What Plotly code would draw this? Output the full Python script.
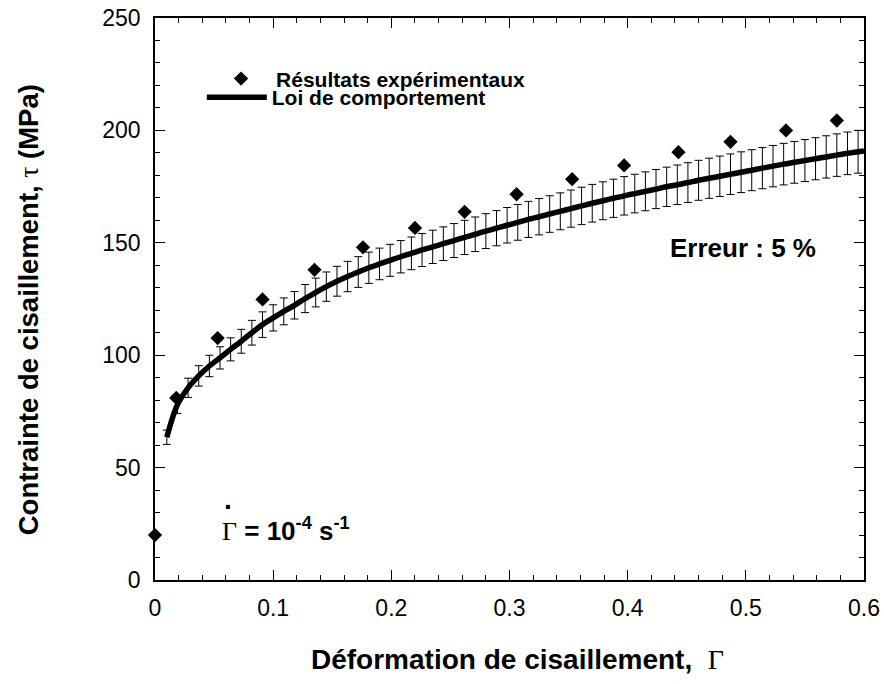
import plotly.graph_objects as go

# Experimental points (Gamma, tau in MPa)
exp_x = [0.0, 0.018, 0.053, 0.091, 0.135, 0.176, 0.220, 0.262, 0.306, 0.353, 0.397, 0.443, 0.487, 0.534, 0.577]
exp_y = [20.0, 81.0, 107.6, 124.8, 138.0, 148.0, 156.6, 163.8, 171.6, 178.3, 184.4, 190.3, 194.9, 200.0, 204.4]

# Constitutive law curve, read at the error-bar positions
law_x = [0.010, 0.019, 0.028, 0.037, 0.046, 0.055, 0.064, 0.073, 0.082, 0.091,
         0.100, 0.109, 0.118, 0.127, 0.136, 0.145, 0.154, 0.163, 0.172, 0.181,
         0.190, 0.199, 0.208, 0.217, 0.226, 0.235, 0.244, 0.253, 0.262, 0.271,
         0.280, 0.289, 0.298, 0.307, 0.316, 0.325, 0.334, 0.343, 0.352, 0.361,
         0.370, 0.379, 0.388, 0.397, 0.406, 0.415, 0.424, 0.433, 0.442, 0.451,
         0.460, 0.469, 0.478, 0.487, 0.496, 0.505, 0.514, 0.523, 0.532, 0.541,
         0.550, 0.559, 0.568, 0.577, 0.586, 0.595]
law_y = [63.5, 78.0, 85.5, 90.8, 95.2, 98.8, 102.6, 106.2, 110.0, 113.6,
         116.6, 119.5, 122.2, 125.2, 127.9, 130.5, 132.9, 135.0, 137.0, 138.9,
         140.6, 142.2, 143.8, 145.3, 146.8, 148.2, 149.6, 151.0, 152.4, 153.8,
         155.2, 156.5, 157.8, 159.1, 160.4, 161.6, 162.8, 164.0, 165.2, 166.4,
         167.6, 168.7, 169.8, 170.9, 171.9, 172.9, 173.9, 174.9, 175.8, 176.8,
         177.8, 178.7, 179.6, 180.5, 181.4, 182.3, 183.2, 184.1, 185.0, 185.8,
         186.6, 187.4, 188.2, 189.0, 189.8, 190.5]
law_end_x = [0.600]
law_end_y = [190.9]

error_percent = 5

x_ticks = [0, 0.1, 0.2, 0.3, 0.4, 0.5, 0.6]
x_ticklabels = ["0", "0.1", "0.2", "0.3", "0.4", "0.5", "0.6"]
y_ticks = [0, 50, 100, 150, 200, 250]

SANS = "Liberation Sans, Arial, Helvetica, sans-serif"
SERIF_SPAN = "<span style=\"font-family:Liberation Serif;font-weight:normal\">{}</span>"

fig = go.Figure()

# error bars (5 %)
fig.add_trace(go.Scatter(
    x=law_x, y=law_y, mode="markers",
    marker=dict(size=1, color="rgba(0,0,0,0)"),
    error_y=dict(type="percent", value=error_percent, color="black", thickness=1, width=4),
    showlegend=False, hoverinfo="skip",
))

# constitutive law
fig.add_trace(go.Scatter(
    x=law_x + law_end_x, y=law_y + law_end_y, mode="lines",
    line=dict(color="black", width=5.5, shape="spline"),
    name="Loi de comportement", legend="legend2",
))

# experimental results
fig.add_trace(go.Scatter(
    x=exp_x, y=exp_y, mode="markers",
    marker=dict(symbol="diamond", size=11, color="black"),
    name="Résultats expérimentaux", legend="legend", cliponaxis=False,
))

axis_common = dict(
    showline=True, linecolor="black", linewidth=1.5, mirror="ticks",
    ticks="inside", ticklen=10, tickwidth=1.2, tickcolor="black",
    showgrid=False, zeroline=False, automargin=False,
    ticklabeloverflow="allow",
    tickfont=dict(family=SANS, size=23, color="black"),
)

fig.update_xaxes(
    range=[0, 0.6], tickvals=x_ticks, ticktext=x_ticklabels,
    minor=dict(dtick=0.02, ticks="inside", ticklen=5, tickwidth=1, tickcolor="black", showgrid=False),
    ticklabelstandoff=7,
    **axis_common,
)
fig.update_yaxes(
    range=[0, 250], tickvals=y_ticks,
    minor=dict(dtick=10, ticks="inside", ticklen=5, tickwidth=1, tickcolor="black", showgrid=False),
    ticklabelstandoff=8,
    **axis_common,
)

# axis titles
fig.add_annotation(
    x=0.5106, y=-0.1406, xref="paper", yref="paper",
    text="Déformation de cisaillement,  " + SERIF_SPAN.format("Γ"),
    showarrow=False, xanchor="center", yanchor="middle",
    font=dict(family=SANS, size=28, color="black", weight="bold"),
)
fig.add_annotation(
    x=-0.1791, y=0.48, xref="paper", yref="paper",
    text="Contrainte de cisaillement, " + SERIF_SPAN.format("τ") + " (MPa)",
    showarrow=False, xanchor="center", yanchor="middle", textangle=-90,
    font=dict(family=SANS, size=27.5, color="black", weight="bold"),
)

fig.add_annotation(
    x=0.498, y=147.7, xref="x", yref="y", text="Erreur : 5 %", showarrow=False,
    font=dict(family=SANS, size=26, color="black", weight="bold"),
    xanchor="center", yanchor="middle",
)
fig.add_annotation(
    x=0.055, y=22.3, xref="x", yref="y",
    text=SERIF_SPAN.format("Γ") + " = 10<sup>-4</sup> s<sup>-1</sup>",
    showarrow=False,
    font=dict(family=SANS, size=26, color="black", weight="bold"),
    xanchor="left", yanchor="middle",
)
# rate dot over Gamma
fig.add_annotation(
    x=0.0618, y=32.5, xref="x", yref="y", text="·", showarrow=False,
    font=dict(family=SANS, size=28, color="black", weight="bold"),
    xanchor="center", yanchor="middle",
)

legend_common = dict(
    xanchor="left", yanchor="top", bgcolor="rgba(0,0,0,0)", borderwidth=0,
    font=dict(family=SANS, size=21, color="black", weight="bold"),
    itemwidth=60,
)

fig.update_layout(
    width=884, height=684,
    margin=dict(l=155, r=20, t=18, b=104),
    paper_bgcolor="white", plot_bgcolor="white",
    legend=dict(x=0.072, y=0.928, **legend_common),
    legend2=dict(x=0.066, y=0.895, **legend_common),
)

# remove the default page margin so the figure sits at the window's top-left corner
fig.write_html(
    "out.html",
    config={"displayModeBar": False},
    post_script="document.body.style.margin='0';document.body.style.overflow='hidden';",
)
